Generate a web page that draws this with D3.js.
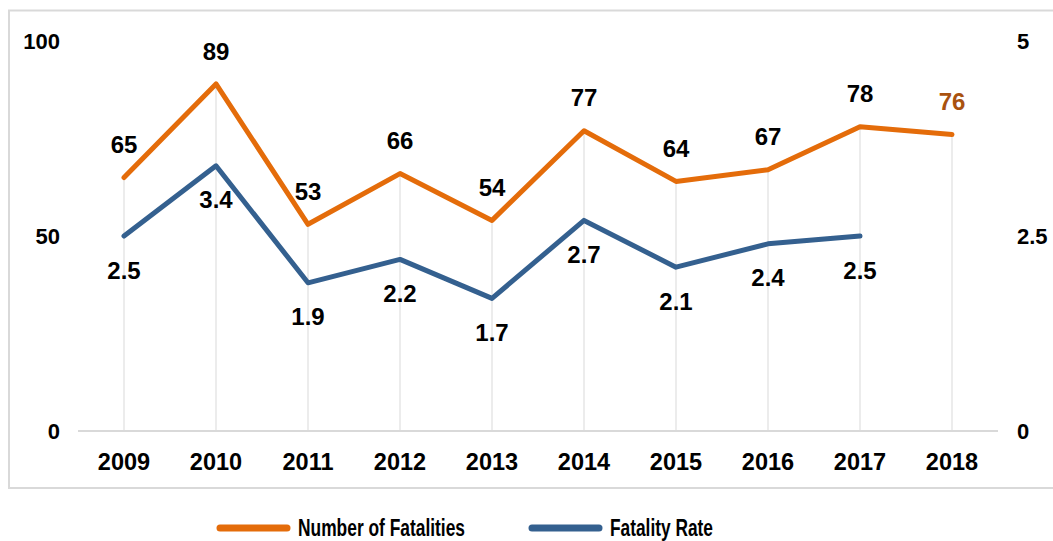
<!DOCTYPE html>
<html><head><meta charset="utf-8">
<script src="https://cdn.jsdelivr.net/npm/d3@7"></script>
<style>body{margin:0;background:#fff}svg{display:block}</style>
</head><body>
<svg id="c" width="1053" height="541"></svg>
<script>
const years = ["2009","2010","2011","2012","2013","2014","2015","2016","2017","2018"];
const fatalities = [65,89,53,66,54,77,64,67,78,76];
const fatalityRate = [2.5,3.4,1.9,2.2,1.7,2.7,2.1,2.4,2.5];
const leftTicks = [0,50,100];
const rightTicks = [0,2.5,5];
const rightTickLabels = ["0","2.5","5"];
const seriesNames = ["Number of Fatalities","Fatality Rate"];

const svg = d3.select("#c");
const orange = "#E46C0A", blue = "#34608F", brown = "#A9520F";
const font = "'Liberation Sans', Arial, sans-serif";

// border
svg.append("rect").attr("x",9).attr("y",10.5).attr("width",1060).attr("height",477.5)
  .attr("fill","none").attr("stroke","#d9d9d9").attr("stroke-width",2);

const x = d3.scaleBand().domain(years).range([78,998]);
const yL = d3.scaleLinear().domain([0,100]).range([431,41]);
const yR = d3.scaleLinear().domain([0,5]).range([431,41]);
const cx = d => x(d) + x.bandwidth()/2;

// drop lines
svg.append("g").selectAll("line").data(years).join("line")
  .attr("x1",d=>cx(d)).attr("x2",d=>cx(d))
  .attr("y1",(d,i)=>yL(fatalities[i])).attr("y2",yL(0))
  .attr("stroke","#ececec").attr("stroke-width",2);

// baseline
svg.append("line").attr("x1",78).attr("x2",998).attr("y1",yL(0)).attr("y2",yL(0))
  .attr("stroke","#d9d9d9").attr("stroke-width",2);

// x axis labels
const xAxis = d3.axisBottom(x).tickSize(0).tickPadding(0);
const gx = svg.append("g").attr("transform",`translate(0,${yL(0)})`).call(xAxis);
gx.select(".domain").remove();
gx.selectAll("text").attr("font-family",font).attr("font-weight","bold")
  .attr("font-size","23.5px").attr("fill","#000").attr("dy",null).attr("y",38.5);

// left axis
const gl = svg.append("g").attr("transform","translate(60,0)")
  .call(d3.axisLeft(yL).tickValues(leftTicks).tickSize(0).tickPadding(0));
gl.select(".domain").remove();
gl.selectAll("text").attr("font-family",font).attr("font-weight","bold")
  .attr("font-size","22px").attr("fill","#000").attr("dy","0.36em");

// right axis
const gr = svg.append("g").attr("transform","translate(1017,0)")
  .call(d3.axisRight(yR).tickValues(rightTicks).tickFormat((d,i)=>rightTickLabels[i]).tickSize(0).tickPadding(0));
gr.select(".domain").remove();
gr.selectAll("text").attr("font-family",font).attr("font-weight","bold")
  .attr("font-size","22px").attr("fill","#000").attr("dy","0.36em");

// lines
const lineL = d3.line().x((d,i)=>cx(years[i])).y(d=>yL(d));
const lineR = d3.line().x((d,i)=>cx(years[i])).y(d=>yR(d));
svg.append("path").attr("d",lineL(fatalities)).attr("fill","none")
  .attr("stroke",orange).attr("stroke-width",5).attr("stroke-linejoin","round").attr("stroke-linecap","round");
svg.append("path").attr("d",lineR(fatalityRate)).attr("fill","none")
  .attr("stroke",blue).attr("stroke-width",5).attr("stroke-linejoin","round").attr("stroke-linecap","round");

// data labels
svg.append("g").selectAll("text").data(fatalities).join("text")
  .attr("x",(d,i)=>cx(years[i])).attr("y",d=>yL(d)-33).attr("dy","0.36em")
  .attr("text-anchor","middle").attr("font-family",font).attr("font-weight","bold")
  .attr("font-size","24px")
  .attr("fill",(d,i)=>i===fatalities.length-1?brown:"#000").text(d=>d);
svg.append("g").selectAll("text").data(fatalityRate).join("text")
  .attr("x",(d,i)=>cx(years[i])).attr("y",d=>yR(d)+34).attr("dy","0.36em")
  .attr("text-anchor","middle").attr("font-family",font).attr("font-weight","bold")
  .attr("font-size","24px").attr("fill","#000").text(d=>d.toFixed(1));

// legend
const legend = [
  {name:seriesNames[0], color:orange, x1:220, x2:287, tx:298, tl:167},
  {name:seriesNames[1], color:blue, x1:532, x2:599, tx:610, tl:103}
];
const lg = svg.append("g");
legend.forEach(l=>{
  lg.append("line").attr("x1",l.x1).attr("x2",l.x2).attr("y1",528).attr("y2",528)
    .attr("stroke",l.color).attr("stroke-width",7).attr("stroke-linecap","round");
  lg.append("text").attr("x",l.tx).attr("y",527).attr("dy","0.36em")
    .attr("font-family","'Liberation Sans Narrow', 'Arial Narrow', "+font)
    .attr("font-weight","bold").attr("font-size","24px").attr("fill","#000")
    .attr("textLength",l.tl).attr("lengthAdjust","spacingAndGlyphs").text(l.name);
});
</script>
</body></html>
